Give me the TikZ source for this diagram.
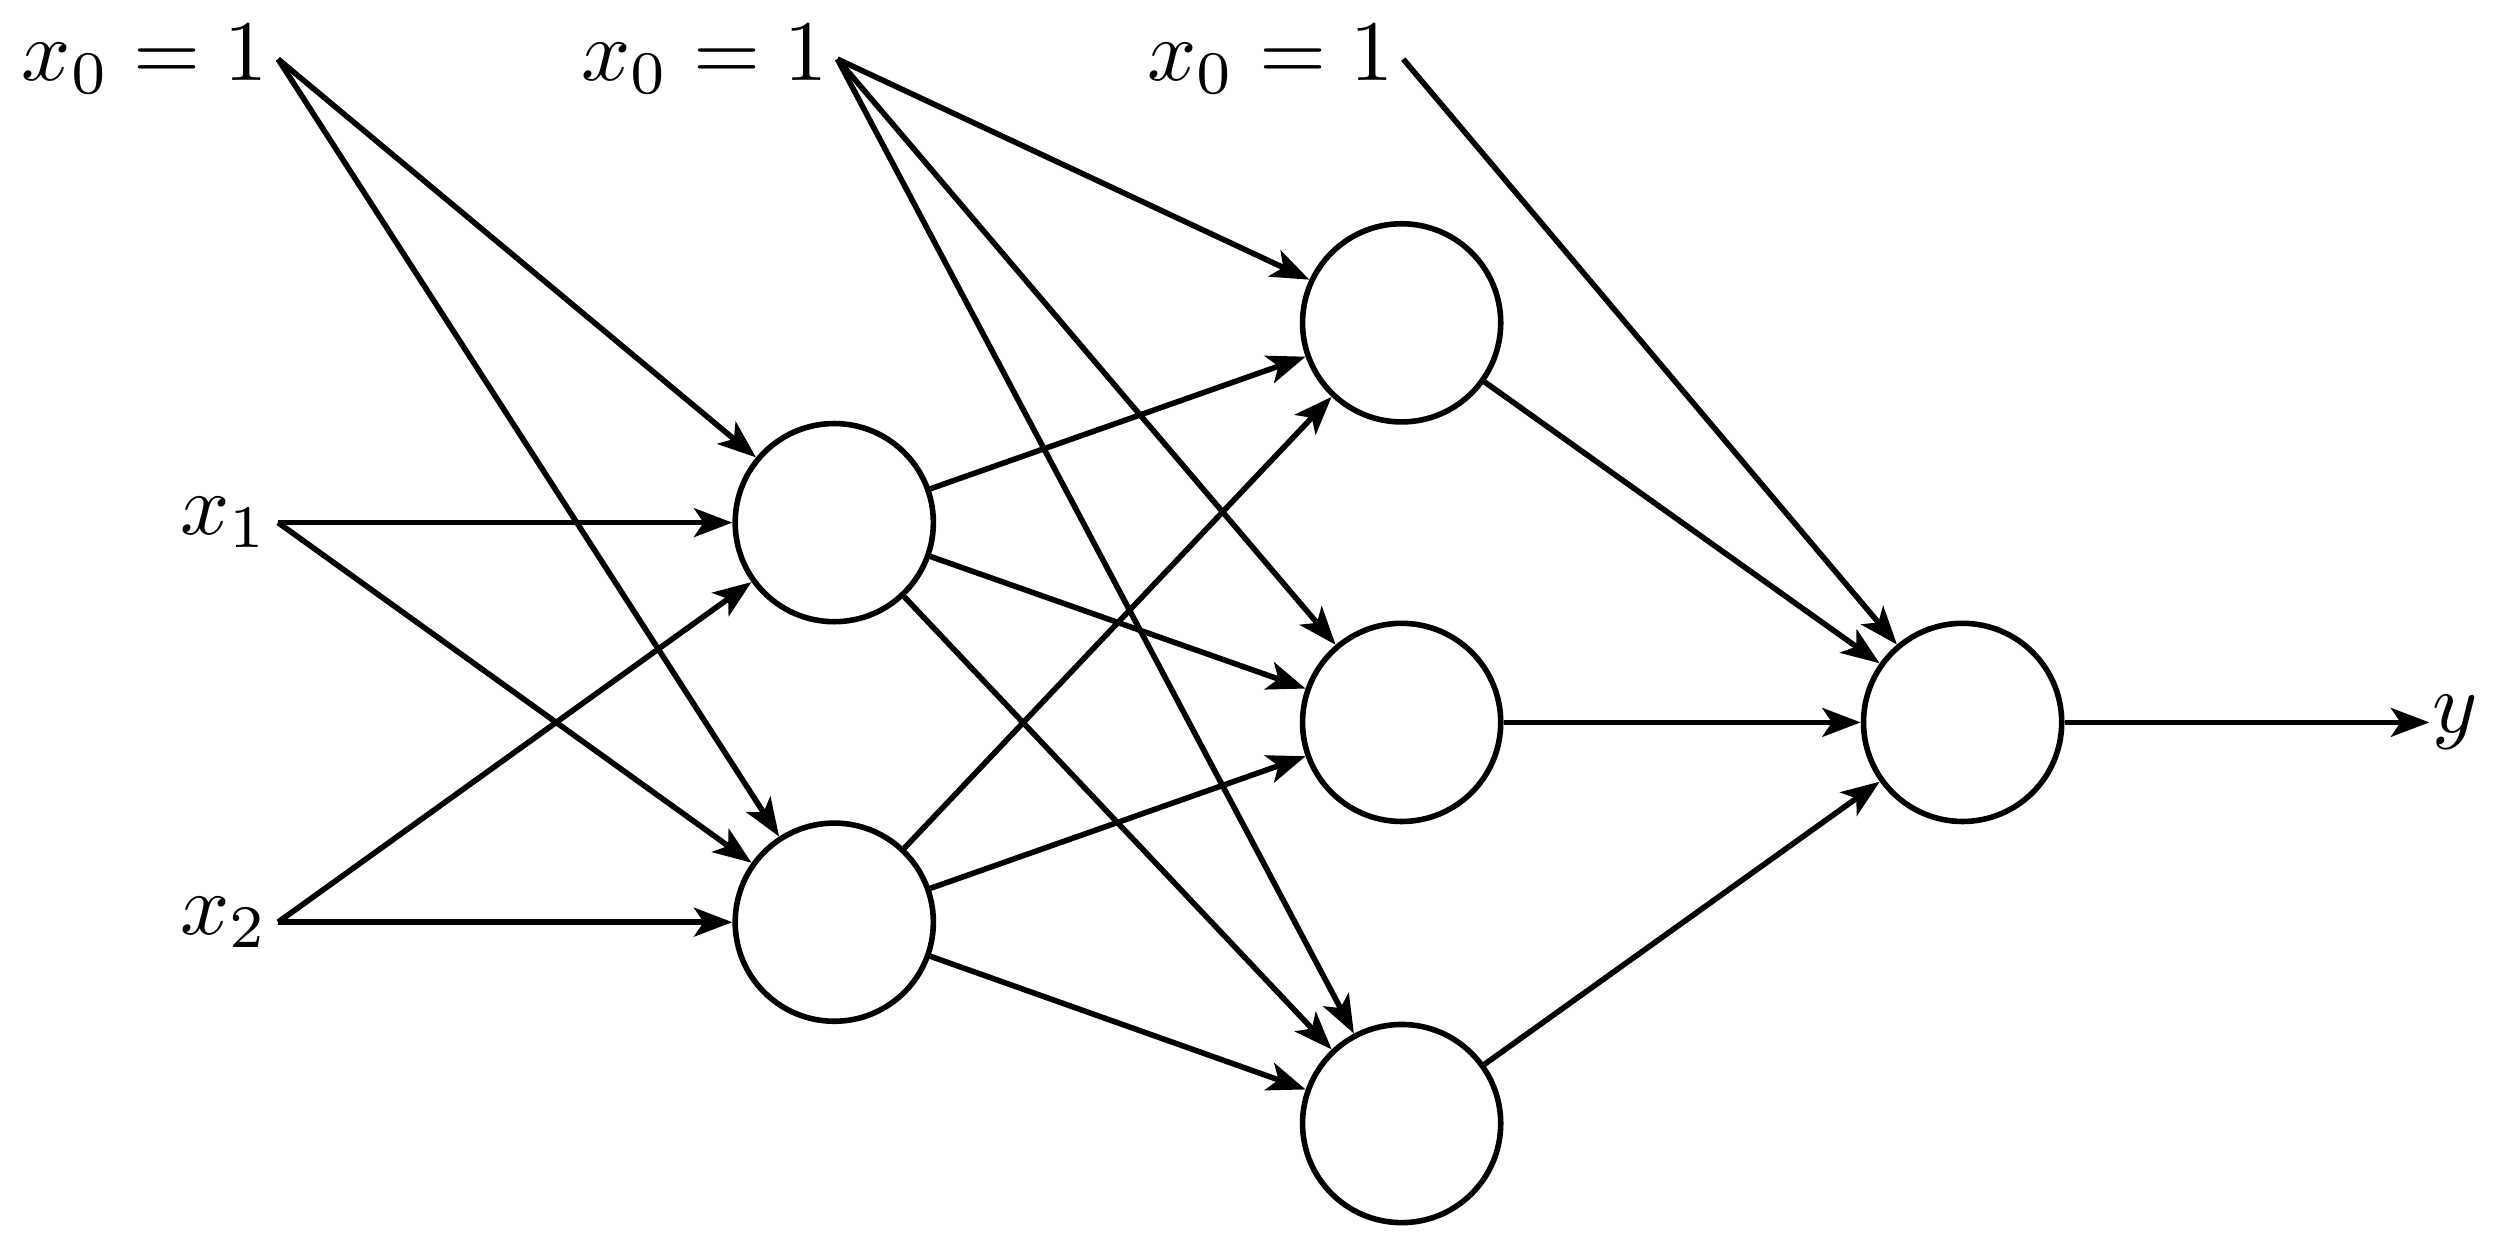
\documentclass[tikz,border=0pt]{standalone}
\usepackage{graphicx}
\usetikzlibrary{arrows.meta}
\newcommand{\bigtxt}[1]{\scalebox{5.4}{$#1$}}
\begin{document}
\begin{tikzpicture}[x=1pt,y=-1pt,
  neuron/.style={circle,draw,line width=3.5pt,minimum size=124pt,inner sep=0pt},
  lab/.style={inner sep=6pt},
  conn/.style={line width=3.5pt,-{Stealth[length=24pt,width=18pt,inset=6pt]}}]
\useasboundingbox (0,0) rectangle (1568,781);
\node[neuron] (a1) at (522,327) {};
\node[neuron] (a2) at (522,577) {};
\node[neuron] (b1) at (877,202) {};
\node[neuron] (b2) at (877,452) {};
\node[neuron] (b3) at (877,703) {};
\node[neuron] (o) at (1228,452) {};
\coordinate (c0) at (174,37);
\coordinate (c1) at (174,327);
\coordinate (c2) at (174,577);
\coordinate (d0) at (524,37);
\coordinate (e0) at (878,37);
\coordinate (yy) at (1520,452);
\node[lab,anchor=east] (l0) at (c0) {\bigtxt{x_0=1}};
\node[lab,anchor=east] (l1) at (c1) {\bigtxt{x_1}};
\node[lab,anchor=east] (l2) at (c2) {\bigtxt{x_2}};
\node[lab,anchor=east] (m0) at (d0) {\bigtxt{x_0=1}};
\node[lab,anchor=east] (n0) at (e0) {\bigtxt{x_0=1}};
\node[lab,anchor=west,inner sep=2pt] (ly) at (yy) {\bigtxt{y}};
\foreach \s in {c0,c1,c2} \foreach \t in {a1,a2} \draw[conn] (\s) -- (\t);
\foreach \s in {d0,a1,a2} \foreach \t in {b1,b2,b3} \draw[conn] (\s) -- (\t);
\foreach \s in {e0,b1,b2,b3} \draw[conn] (\s) -- (o);
\draw[conn] (o) -- (yy);
\end{tikzpicture}
\end{document}
